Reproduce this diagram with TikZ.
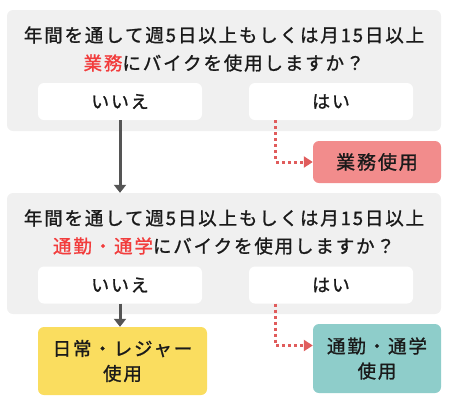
\documentclass[tikz,border=0pt]{standalone}
\usepackage{fontspec}
\setmainfont{Noto Sans CJK JP}[LetterSpace=10,FakeBold=1.2]
\usetikzlibrary{arrows.meta}
\definecolor{qgray}{HTML}{F0F0F0}
\definecolor{redtxt}{HTML}{F23C3C}
\definecolor{arrgray}{HTML}{555555}
\definecolor{dotred}{HTML}{E05C5C}
\definecolor{pinkbox}{HTML}{F28C8C}
\definecolor{yellowbox}{HTML}{FADD5F}
\definecolor{tealbox}{HTML}{8ECDCA}
\definecolor{txt}{HTML}{1A1A1A}
\tikzset{
  qbox/.style={fill=qgray, rounded corners=6pt, minimum width=434pt, minimum height=121pt, inner sep=0pt},
  qtext/.style={align=center, text=txt, font=\fontsize{18.5pt}{28pt}\selectfont, inner sep=0pt},
  abox/.style={fill=white, text=txt, rounded corners=6pt, minimum width=164pt, minimum height=37pt, inner sep=0pt, font=\fontsize{18pt}{20pt}\selectfont},
  rbox/.style={rounded corners=6pt, text=txt, inner sep=0pt, align=center, font=\fontsize{19pt}{25pt}\selectfont},
  noarrow/.style={draw=arrgray, line width=3pt, -{Triangle[width=12pt,length=8pt]}},
  yesarrow/.style={draw=dotred, line width=3pt, dash pattern=on 3pt off 3pt, -{Triangle[width=11pt,length=9pt]}},
}
\begin{document}
\begin{tikzpicture}[x=1pt,y=-1pt]
\useasboundingbox (0,0) rectangle (449,400);
% first question
\node[qbox] (q1) at (224,70.5) {};
\node[qtext] (q1t) at (224,49) {年間を通して週5日以上もしくは月15日以上\\\textcolor{redtxt}{業務}にバイクを使用しますか？};
\node[abox] (no1) at (120,101.5) {いいえ};
\node[abox] (yes1) at (331,101.5) {はい};
\node[rbox, fill=pinkbox, minimum width=128pt, minimum height=42pt] (gyomu) at (377,162) {業務使用};
% second question
\node[qbox] (q2) at (224,253.5) {};
\node[qtext] (q2t) at (224,232) {年間を通して週5日以上もしくは月15日以上\\\textcolor{redtxt}{通勤・通学}にバイクを使用しますか？};
\node[abox] (no2) at (120,285) {いいえ};
\node[abox] (yes2) at (331,285) {はい};
\node[rbox, fill=yellowbox, minimum width=169pt, minimum height=68pt, font=\fontsize{18.5pt}{25pt}\selectfont] (leisure) at (122.5,361) {日常・レジャー\\使用};
\node[rbox, fill=tealbox, minimum width=128pt, minimum height=69pt, font=\fontsize{18.5pt}{25pt}\selectfont] (tsukin) at (377,358.5) {通勤・通学\\使用};
% connectors
\draw[noarrow] (no1.south) -- (no1.south |- q2.north);
\draw[noarrow] (no2.south) -- (no2.south |- leisure.north);
\coordinate (y1s) at ([xshift=27pt]yes1.south west);
\coordinate (y2s) at ([xshift=27pt]yes2.south west);
\coordinate (tin) at ([yshift=13pt]tsukin.west);
\draw[yesarrow] (y1s) |- (gyomu.west);
\draw[yesarrow] (y2s) |- (tin);
\end{tikzpicture}
\end{document}
